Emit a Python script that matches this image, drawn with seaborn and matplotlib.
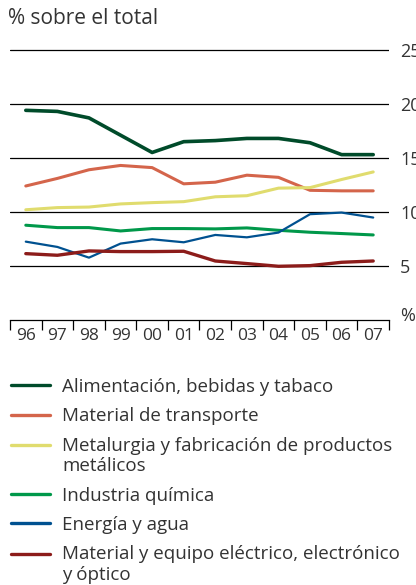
import pandas as pd
import matplotlib.pyplot as plt
import seaborn as sns
from matplotlib.legend_handler import HandlerLine2D

years = ["96", "97", "98", "99", "00", "01", "02", "03", "04", "05", "06", "07"]

alimentacion = [19.4, 19.3, 18.7, 17.1, 15.5, 16.5, 16.6, 16.8, 16.8, 16.4, 15.3, 15.3]
transporte = [12.4, 13.1, 13.9, 14.3, 14.1, 12.6, 12.75, 13.4, 13.2, 12.0, 11.95, 11.95]
metalurgia = [10.2, 10.4, 10.45, 10.74, 10.86, 10.95, 11.4, 11.5, 12.2, 12.25, 13.0, 13.7]
quimica = [8.77, 8.55, 8.55, 8.24, 8.46, 8.46, 8.43, 8.52, 8.3, 8.12, 8.0, 7.87]
energia = [7.25, 6.76, 5.77, 7.07, 7.47, 7.19, 7.87, 7.65, 8.09, 9.79, 9.94, 9.48]
electrico = [6.14, 5.99, 6.39, 6.33, 6.33, 6.36, 5.46, 5.22, 4.97, 5.03, 5.34, 5.46]

labels = [
    "Alimentación, bebidas y tabaco",
    "Material de transporte",
    "Metalurgia y fabricación de productos\nmetálicos",
    "Industria química",
    "Energía y agua",
    "Material y equipo eléctrico, electrónico\ny óptico",
]
colors = ["#004b2a", "#d4654b", "#e0dc6e", "#00984a", "#005190", "#8c1c1a"]
widths = [2.6, 2.2, 2.2, 2.2, 1.6, 2.4]

series = [alimentacion, transporte, metalurgia, quimica, energia, electrico]
frames = []
for lab, vals in zip(labels, series):
    frames.append(pd.DataFrame({"x": range(len(years)), "valor": vals, "sector": lab}))
data = pd.concat(frames)


# legend handle aligned with the first line of a wrapped label
class FirstLineHandler(HandlerLine2D):
    def __init__(self, shift, **kw):
        super().__init__(**kw)
        self.shift = shift

    def create_artists(self, legend, orig_handle, xdescent, ydescent, width, height, fontsize, trans):
        arts = super().create_artists(legend, orig_handle, xdescent, ydescent, width, height, fontsize, trans)
        for a in arts:
            a.set_ydata(a.get_ydata() + self.shift * fontsize)
        return arts


sns.set_style("white")
plt.rcParams["font.family"] = ["Open Sans", "DejaVu Sans"]
txt = "#333333"

fig = plt.figure(figsize=(4.16, 5.85), dpi=100)
ax = fig.add_axes([10 / 416, 1 - 320 / 585, 379 / 416, 281 / 585])

sns.lineplot(data=data, x="x", y="valor", hue="sector", palette=colors, ax=ax, legend=False)
for line, w in zip(ax.lines, widths):
    line.set_linewidth(w)

for v in [5, 10, 15, 20, 25]:
    ax.axhline(v, color="black", lw=0.9, zorder=0)

ax.set_xlim(-0.5, 11.5)
ax.set_ylim(0, 26)
ax.set_xticks([i - 0.5 for i in range(13)])
ax.set_xticklabels([])
ax.set_xticks(range(12), minor=True)
ax.set_xticklabels(years, minor=True)
ax.tick_params(axis="x", which="major", direction="out", length=7, width=0.9, color="black", bottom=True)
ax.tick_params(axis="x", which="minor", length=0, pad=6, labelsize=12.5, labelcolor=txt)

ax.yaxis.tick_right()
ax.set_yticks([0.6, 5, 10, 15, 20, 25])
ax.set_yticklabels(["%", "5", "10", "15", "20", "25"])
ax.tick_params(axis="y", length=0, pad=8, labelsize=13, labelcolor=txt)
ax.set_xlabel("")
ax.set_ylabel("")

for s in ["top", "left", "right"]:
    ax.spines[s].set_visible(False)
ax.spines["bottom"].set_color("black")
ax.spines["bottom"].set_linewidth(0.9)

fig.text(8 / 416, 1 - 18 / 585, "% sobre el total", fontsize=15, color=txt, va="center", ha="left")

handles = [plt.Line2D([], [], color=c, lw=2.4) for c in colors]
hmap = {}
for h, lab in zip(handles, labels):
    if "\n" in lab:
        hmap[h] = FirstLineHandler(0.6)
leg = fig.legend(handles, labels, loc="upper left", bbox_to_anchor=(11 / 416, 1 - 378 / 585),
                 frameon=False, fontsize=13.5, handlelength=2.1, handletextpad=0.62,
                 labelspacing=0.6, borderpad=0, borderaxespad=0, handler_map=hmap)
for t in leg.get_texts():
    t.set_color(txt)

fig.savefig("out.png", dpi=100)
